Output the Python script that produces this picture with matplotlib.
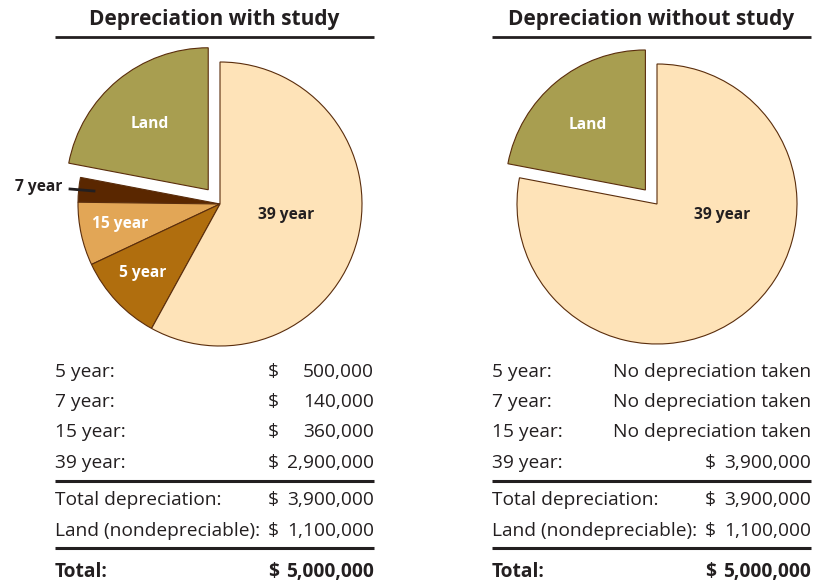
import numpy as np
import matplotlib
matplotlib.use("Agg")
import matplotlib.pyplot as plt

plt.rcParams['font.family'] = ['Open Sans', 'DejaVu Sans']

# data
with_labels = ["Land", "7 year", "15 year", "5 year", "39 year"]
with_values = [1100000, 140000, 360000, 500000, 2900000]
with_colors = ["#A89E50", "#5A2700", "#E2A656", "#B06E0E", "#FEE3B8"]

without_labels = ["Land", "39 year"]
without_values = [1100000, 3900000]
without_colors = ["#A89E50", "#FEE3B8"]

row_names = ["5 year:", "7 year:", "15 year:", "39 year:"]
with_rows = [500000, 140000, 360000, 2900000]
without_rows = [None, None, None, 3900000]
total_dep = [3900000, 3900000]
land_val = [1100000, 1100000]
total_val = [5000000, 5000000]

TXT = "#231F20"
EDGE = "#5A2D0C"
H = 581
FS = 13.8

fig = plt.figure(figsize=(8.2, 5.81), dpi=100)
ax = fig.add_axes([0, 0, 1, 1])
ax.set_xlim(0, 820)
ax.set_ylim(0, H)
ax.set_aspect('equal')
ax.axis('off')


def draw_pie(cx, cy, r, values, colors, labels, label_pos, white):
    # explode is in data units here, so scale by radius
    explode = [0.13 * r if l == "Land" else 0 for l in labels]
    ax.pie(values, colors=colors, explode=explode, startangle=90,
           counterclock=True, center=(cx, H - cy), radius=r, frame=True,
           wedgeprops=dict(edgecolor=EDGE, linewidth=0.8))
    for l in labels:
        if l not in label_pos:
            continue
        ang, frac = label_pos[l]
        a = np.deg2rad(ang)
        ax.text(cx + frac * r * np.cos(a), H - cy + frac * r * np.sin(a), l,
                ha='center', va='center', fontsize=11.2, fontweight='bold',
                color='white' if l in white else TXT)


def money_row(x0, x1, y, name, v, bold=False):
    w = 'bold' if bold else 'normal'
    ax.text(x0, H - y, name, ha='left', va='center', fontsize=FS, color=TXT, fontweight=w)
    if v is None:
        ax.text(x1, H - y, "No depreciation taken", ha='right', va='center',
                fontsize=FS, color=TXT)
        return
    ax.text(x1 - 106, H - y, "$", ha='left', va='center', fontsize=FS, color=TXT, fontweight=w)
    ax.text(x1, H - y, f"{v:,}", ha='right', va='center', fontsize=FS, color=TXT, fontweight=w)


def draw_table(i, x0, x1, title, values):
    ax.text((x0 + x1) / 2, H - 20, title, ha='center', va='center',
            fontsize=15, fontweight='bold', color=TXT)
    ax.plot([x0, x1], [H - 37, H - 37], color=TXT, lw=2, solid_capstyle='butt')
    for name, v, y in zip(row_names, values, [372, 402, 432, 463]):
        money_row(x0, x1, y, name, v)
    ax.plot([x0, x1], [H - 481, H - 481], color=TXT, lw=2.2, solid_capstyle='butt')
    money_row(x0, x1, 500, "Total depreciation:", total_dep[i])
    money_row(x0, x1, 531, "Land (nondepreciable):", land_val[i])
    ax.plot([x0, x1], [H - 548, H - 548], color=TXT, lw=2.2, solid_capstyle='butt')
    money_row(x0, x1, 572, "Total:", total_val[i], bold=True)


draw_pie(220, 204, 142, with_values, with_colors, with_labels,
         {"Land": (131, 0.75), "39 year": (350.5, 0.47),
          "15 year": (191.3, 0.72), "5 year": (221.9, 0.73)},
         white=["Land", "15 year", "5 year"])
draw_pie(657, 204, 140, without_values, without_colors, without_labels,
         {"Land": (131, 0.75), "39 year": (350.3, 0.47)},
         white=["Land"])

# 7 year callout
ax.plot([70, 94], [H - 189, H - 191], color=TXT, lw=2)
ax.text(62, H - 187, "7 year", ha='right', va='center', fontsize=11.2,
        fontweight='bold', color=TXT)

ax.set_xlim(0, 820)
ax.set_ylim(0, H)

draw_table(0, 55, 374, "Depreciation with study", with_rows)
draw_table(1, 492, 811, "Depreciation without study", without_rows)

fig.savefig("out.png", dpi=100, facecolor='white')
